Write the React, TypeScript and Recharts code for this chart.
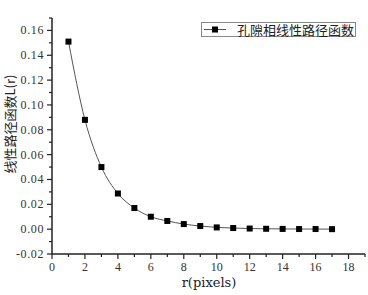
import React from "react";
import {
  LineChart,
  Line,
  XAxis,
  YAxis,
  Legend,
} from "recharts";

// r (pixels) and measured lineal path values
const rValues = [1, 2, 3, 4, 5, 6, 7, 8, 9, 10, 11, 12, 13, 14, 15, 16, 17];
const lineal = [
  0.151, 0.088, 0.05, 0.0287, 0.017, 0.01, 0.0066, 0.0041, 0.0025, 0.0014,
  0.0009, 0.0005, 0.0003, 0.0002, 0.0001, 0.0001, 0.0,
];

const xMajor = [0, 2, 4, 6, 8, 10, 12, 14, 16, 18];
const xMinor = [1, 3, 5, 7, 9, 11, 13, 15, 17, 19];
const yMajor = [-0.02, 0, 0.02, 0.04, 0.06, 0.08, 0.1, 0.12, 0.14, 0.16];
const yMinor = [-0.01, 0.01, 0.03, 0.05, 0.07, 0.09, 0.11, 0.13, 0.15, 0.17];

const seriesName = "孔隙相线性路径函数";
const xTitle = "r(pixels)";
const yTitle = "线性路径函数L(r)";

const data = rValues.map((r, i) => ({ r, value: lineal[i] }));

const axisColor = "#222";
const tickFont = "'Liberation Serif', serif";
const cjkFont = "'Noto Sans CJK SC', sans-serif";

const isMajor = (list: number[], v: number) =>
  list.some((m) => Math.abs(m - v) < 1e-9);

const XTick = (props: any) => {
  const { x, y, payload } = props;
  const major = isMajor(xMajor, payload.value);
  return (
    <g>
      <line x1={x} y1={y} x2={x} y2={y + (major ? 5 : 3)} stroke={axisColor} strokeWidth={1.2} />
      {major && (
        <text x={x} y={y + 17} textAnchor="middle" fontSize={12} fill="#333" fontFamily={tickFont}>
          {payload.value}
        </text>
      )}
    </g>
  );
};

const YTick = (props: any) => {
  const { x, y, payload } = props;
  const major = isMajor(yMajor, payload.value);
  return (
    <g>
      <line x1={x} y1={y} x2={x - (major ? 5 : 3)} y2={y} stroke={axisColor} strokeWidth={1.2} />
      {major && (
        <text
          x={x - 8}
          y={y + 4}
          textAnchor="end"
          fontSize={12}
          letterSpacing={0.6}
          fill="#333"
          fontFamily={tickFont}
        >
          {payload.value.toFixed(2)}
        </text>
      )}
    </g>
  );
};

const SquareDot = (props: any) => {
  const { cx, cy } = props;
  if (cx == null || cy == null) return null;
  return <rect x={cx - 3} y={cy - 3} width={6} height={6} fill="#000" />;
};

const LegendBox = () => (
  <div
    style={{
      position: "relative",
      border: "1px solid #888",
      width: 155,
      height: 15,
      background: "#fff",
      boxSizing: "border-box",
    }}
  >
    <svg width={26} height={13} style={{ position: "absolute", left: 1, top: 0 }}>
      <line x1={1} y1={6.5} x2={23} y2={6.5} stroke="#555" strokeWidth={1} />
      <rect x={9} y={3.5} width={6} height={6} fill="#000" />
    </svg>
    <span
      style={{
        position: "absolute",
        left: 35,
        top: 0,
        fontFamily: cjkFont,
        fontSize: 13,
        color: "#222",
        lineHeight: "13px",
        whiteSpace: "nowrap",
      }}
    >
      {seriesName}
    </span>
  </div>
);

export default function App() {
  return (
    <div style={{ width: 368, height: 295, background: "#fff" }}>
      <style>{`body{margin:0}`}</style>
      <LineChart
        width={368}
        height={295}
        data={data}
        margin={{ top: 3, right: 3, bottom: 0, left: 0 }}
      >
        <XAxis
          dataKey="r"
          type="number"
          domain={[0, 19]}
          ticks={[...xMajor, ...xMinor].sort((a, b) => a - b)}
          interval={0}
          height={41}
          stroke={axisColor}
          strokeWidth={1.5}
          tickLine={false}
          tickSize={0}
          tickMargin={0}
          tick={<XTick />}
          label={() => (
            <text x={209} y={287} textAnchor="middle" fontSize={13} fill="#222" fontFamily="'DejaVu Serif', serif">
              {xTitle}
            </text>
          )}
        />
        <YAxis
          type="number"
          domain={[-0.02, 0.17]}
          ticks={[...yMajor, ...yMinor].sort((a, b) => a - b)}
          interval={0}
          width={52}
          stroke={axisColor}
          strokeWidth={1.5}
          tickLine={false}
          tickSize={0}
          tickMargin={0}
          tick={<YTick />}
          label={() => (
            <text
              x={9}
              y={124}
              transform="rotate(-90 9 124)"
              textAnchor="middle"
              dominantBaseline="central"
              fontSize={13}
              fill="#222"
              fontFamily={cjkFont}
            >
              {yTitle}
            </text>
          )}
        />
        <Legend
          verticalAlign="top"
          content={<LegendBox />}
          wrapperStyle={{ top: 22, left: 201, width: 155 }}
        />
        <Line
          type="monotone"
          dataKey="value"
          name={seriesName}
          stroke="#555"
          strokeWidth={1}
          dot={<SquareDot />}
          activeDot={false}
          isAnimationActive={false}
        />
      </LineChart>
    </div>
  );
}
